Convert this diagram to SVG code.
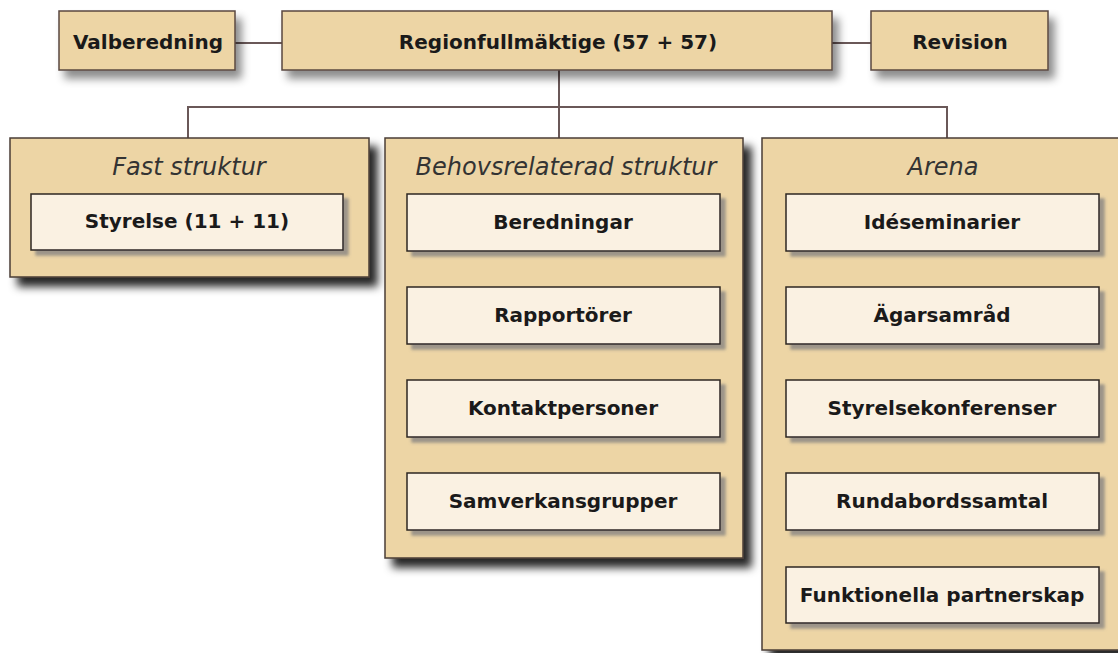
<svg xmlns="http://www.w3.org/2000/svg" width="1118" height="653" viewBox="0 0 1118 653">
<defs>
<filter id="shTop" x="-10%" y="-20%" width="130%" height="160%"><feDropShadow dx="6" dy="8" stdDeviation="4" flood-color="#000" flood-opacity="0.45"/></filter>
<filter id="shPanel" x="-10%" y="-10%" width="130%" height="130%"><feDropShadow dx="8" dy="9" stdDeviation="4" flood-color="#000" flood-opacity="0.85"/></filter>
<filter id="shBox" x="-10%" y="-20%" width="130%" height="160%"><feDropShadow dx="5" dy="5" stdDeviation="1.5" flood-color="#5a6070" flood-opacity="0.55"/></filter>
</defs>
<style>
.top{fill:#EDD5A5;stroke:#5a4840;stroke-width:1.5;filter:url(#shTop)}
.panel{fill:#EDD5A5;stroke:#4a3c36;stroke-width:1.5;filter:url(#shPanel)}
.box{fill:#FAF1E2;stroke:#2e2622;stroke-width:1.5;filter:url(#shBox)}
.lbl{font-family:"DejaVu Sans",Verdana,sans-serif;font-weight:bold;font-size:20px;fill:#1a1a1a;text-anchor:middle}
.hdr{font-family:"DejaVu Sans",Verdana,sans-serif;font-style:italic;font-size:24px;fill:#333;text-anchor:middle}
.con{fill:none;stroke:#6a5858;stroke-width:2}
</style>
<g id="connectors">
<line class="con" x1="235" y1="43" x2="282" y2="43"/>
<line class="con" x1="832" y1="43" x2="871" y2="43"/>
<line class="con" x1="559" y1="70" x2="559" y2="138"/>
<polyline class="con" points="188,138 188,107 947,107 947,138"/>
</g>
<g id="valberedning"><rect class="top" x="59" y="11" width="176" height="59"/><text class="lbl" x="148" y="49">Valberedning</text></g>
<g id="regionfullmaktige"><rect class="top" x="282" y="11" width="550" height="59"/><text class="lbl" x="558" y="49">Regionfullmäktige (57 + 57)</text></g>
<g id="revision"><rect class="top" x="871" y="11" width="177" height="59"/><text class="lbl" x="960" y="49">Revision</text></g>

<g id="fast-struktur"><rect class="panel" x="10" y="138" width="359" height="139"/><text class="hdr" x="189" y="175">Fast struktur</text></g>
<g id="styrelse"><rect class="box" x="31" y="194" width="312" height="56"/><text class="lbl" x="187" y="228">Styrelse (11 + 11)</text></g>

<g id="behovsrelaterad-struktur"><rect class="panel" x="385" y="138" width="358" height="420"/><text class="hdr" x="566" y="175">Behovsrelaterad struktur</text></g>
<g id="beredningar"><rect class="box" x="407" y="194" width="313" height="57"/><text class="lbl" x="563" y="229">Beredningar</text></g>
<g id="rapportorer"><rect class="box" x="407" y="287" width="313" height="57"/><text class="lbl" x="563" y="322">Rapportörer</text></g>
<g id="kontaktpersoner"><rect class="box" x="407" y="380" width="313" height="57"/><text class="lbl" x="563" y="415">Kontaktpersoner</text></g>
<g id="samverkansgrupper"><rect class="box" x="407" y="473" width="313" height="57"/><text class="lbl" x="563" y="508">Samverkansgrupper</text></g>

<g id="arena"><rect class="panel" x="762" y="138" width="370" height="512"/><text class="hdr" x="943" y="175">Arena</text></g>
<g id="ideseminarier"><rect class="box" x="786" y="194" width="313" height="57"/><text class="lbl" x="942" y="229">Idéseminarier</text></g>
<g id="agarsamrad"><rect class="box" x="786" y="287" width="313" height="57"/><text class="lbl" x="942" y="322">Ägarsamråd</text></g>
<g id="styrelsekonferenser"><rect class="box" x="786" y="380" width="313" height="57"/><text class="lbl" x="942" y="415">Styrelsekonferenser</text></g>
<g id="rundabordssamtal"><rect class="box" x="786" y="473" width="313" height="57"/><text class="lbl" x="942" y="508">Rundabordssamtal</text></g>
<g id="funktionella-partnerskap"><rect class="box" x="786" y="567" width="313" height="56"/><text class="lbl" x="942" y="602">Funktionella partnerskap</text></g>
</svg>
